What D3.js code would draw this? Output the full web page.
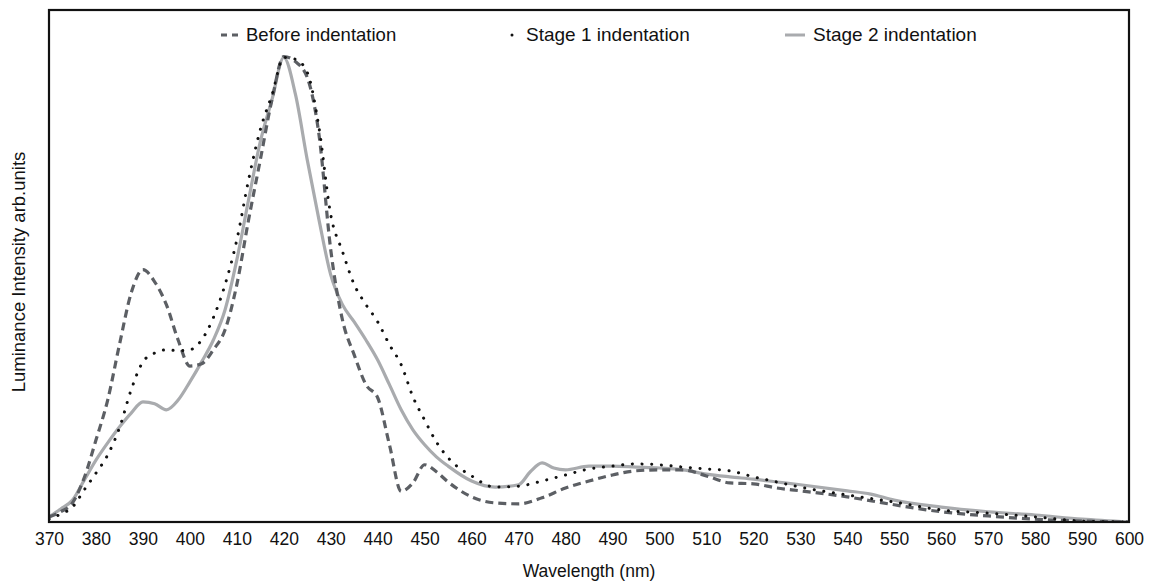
<!DOCTYPE html>
<html>
  <head>
    <meta charset="utf-8">
    <title>Luminance spectra</title>
    <script src="https://d3js.org/d3.v7.min.js"></script>
    <style>
      body { margin: 0; background: #fff; }
      text { font-family: "Liberation Sans", Arial, Helvetica, sans-serif; fill: #111; }
    </style>
  </head>
  <body>
    <div id="chart"></div>
    <script>
      // Wavelength grid (nm) for each series, and intensities (arb. units, peak = 100)
      const beforeNm = [370, 372.5, 375, 377.5, 380, 382.5, 385, 387.5, 390, 392.5, 395, 397.5, 400, 402.5, 405, 407.5, 410, 412.5, 415, 417.5, 420, 422.5, 425, 427.5, 430, 432.5, 435, 437.5, 440, 442.5, 445, 447.5, 450, 452.5, 455, 460, 465, 470, 475, 480, 485, 490, 495, 500, 505, 510, 515, 520, 525, 530, 540, 550, 560, 570, 580, 590, 600];
      const beforeVals = [1.1, 2.2, 4.1, 9.5, 17.6, 26.2, 38.1, 49.2, 54.2, 51.6, 46.7, 39.1, 33.5, 34.0, 37.0, 41.3, 51.0, 64.9, 77.8, 90.8, 100, 98.9, 95.5, 83.2, 58.5, 43.4, 35.9, 29.5, 26.7, 16.6, 6.6, 8.4, 12.3, 10.8, 8.6, 5.4, 4.1, 3.9, 5.2, 7.3, 8.8, 10.1, 11.0, 11.2, 11.2, 9.9, 8.4, 8.2, 7.3, 6.7, 5.4, 3.7, 2.2, 1.3, 0.6, 0.2, 0];

      const stage1Nm = [370, 372.5, 375, 377.5, 380, 382.5, 385, 387.5, 390, 392.5, 395, 397.5, 400, 402.5, 405, 407.5, 410, 412.5, 415, 417.5, 420, 422.5, 425, 427.5, 430, 432.5, 435, 437.5, 440, 442.5, 445, 447.5, 450, 452.5, 455, 460, 465, 470, 475, 480, 485, 490, 495, 500, 505, 510, 515, 520, 525, 530, 540, 550, 560, 570, 580, 590, 600];
      const stage1Vals = [0.6, 1.7, 3.2, 6.9, 10.5, 14.4, 20.2, 28.4, 34.4, 36.3, 37.0, 36.8, 37.0, 39.1, 43.9, 51.0, 60.6, 73.5, 84.3, 91.8, 99.8, 99.4, 96.6, 84.7, 66.0, 58.1, 51.0, 46.7, 43.0, 38.1, 33.8, 26.9, 21.9, 17.2, 13.8, 9.9, 7.5, 7.7, 8.8, 10.1, 11.4, 12.0, 12.5, 12.3, 11.8, 11.4, 11.0, 9.7, 8.6, 7.5, 5.8, 4.3, 2.6, 1.9, 1.1, 0.2, 0];

      const stage2Nm = [370, 372.5, 375, 377.5, 380, 382.5, 385, 387.5, 390, 392.5, 395, 397.5, 400, 402.5, 405, 407.5, 410, 412.5, 415, 417.5, 420, 422.5, 425, 427.5, 430, 432.5, 435, 437.5, 440, 442.5, 445, 447.5, 450, 452.5, 455, 460, 465, 470, 472.5, 475, 477.5, 480, 485, 490, 495, 500, 505, 510, 515, 520, 525, 530, 540, 545, 550, 560, 570, 580, 590, 600];
      const stage2Vals = [1.1, 2.8, 4.7, 9.0, 13.3, 17.0, 20.4, 23.4, 25.8, 25.4, 24.1, 26.2, 30.1, 34.4, 39.1, 45.6, 56.3, 69.2, 81.7, 90.8, 99.8, 91.8, 77.8, 64.9, 53.1, 46.7, 43.0, 39.1, 34.8, 29.5, 24.1, 19.8, 16.6, 14.0, 12.0, 8.8, 7.5, 8.0, 10.8, 12.7, 11.6, 11.2, 12.0, 12.0, 11.8, 11.6, 11.2, 10.3, 9.7, 9.2, 8.6, 8.0, 6.7, 6.0, 4.7, 3.2, 2.2, 1.5, 0.6, 0];

      const xTicks = d3.range(370, 601, 10);
      const seriesNames = ["Before indentation", "Stage 1 indentation", "Stage 2 indentation"];

      const W = 1153, H = 583;
      const box = {left: 49, right: 1129, top: 10, bottom: 522};

      const x = d3.scaleLinear().domain([370, 600]).range([box.left, box.right]);
      const y = d3.scaleLinear().domain([0, 110]).range([box.bottom, box.top]);

      const svg = d3.select("#chart").append("svg")
        .attr("width", W)
        .attr("height", H);

      svg.append("clipPath").attr("id", "clip")
        .append("rect")
        .attr("x", box.left).attr("y", box.top)
        .attr("width", box.right - box.left).attr("height", box.bottom - box.top);

      const line = d3.line()
        .x(d => x(d[0]))
        .y(d => y(d[1]))
        .curve(d3.curveMonotoneX);

      const series = [
        {name: seriesNames[0], nm: beforeNm, vals: beforeVals, stroke: "#5c5f64", width: 3.2, dash: "8,5", cap: "butt"},
        {name: seriesNames[1], nm: stage1Nm, vals: stage1Vals, stroke: "#111", width: 3, dash: "0.1,9.6", cap: "round"},
        {name: seriesNames[2], nm: stage2Nm, vals: stage2Vals, stroke: "#a9abae", width: 3.2, dash: null, cap: "butt"}
      ];

      const plot = svg.append("g").attr("clip-path", "url(#clip)");
      // draw stage 2 first so the darker lines sit on top
      [series[2], series[0], series[1]].forEach(s => {
        plot.append("path")
          .datum(d3.zip(s.nm, s.vals))
          .attr("fill", "none")
          .attr("stroke", s.stroke)
          .attr("stroke-width", s.width)
          .attr("stroke-dasharray", s.dash)
          .attr("stroke-linecap", s.cap)
          .attr("stroke-linejoin", "round")
          .attr("d", line);
      });

      // frame
      svg.append("rect")
        .attr("x", box.left).attr("y", box.top)
        .attr("width", box.right - box.left).attr("height", box.bottom - box.top)
        .attr("fill", "none")
        .attr("stroke", "#111")
        .attr("stroke-width", 2.2);

      // x axis labels, no tick marks
      const xAxis = d3.axisBottom(x).tickValues(xTicks).tickSize(0).tickPadding(11).tickFormat(d3.format("d"));
      const gx = svg.append("g")
        .attr("transform", `translate(0,${box.bottom})`)
        .call(xAxis);
      gx.select(".domain").remove();
      gx.selectAll("text").attr("font-size", 17.5).attr("font-family", null);

      svg.append("text")
        .attr("x", (box.left + box.right) / 2)
        .attr("y", 577)
        .attr("text-anchor", "middle")
        .attr("font-size", 17.5)
        .text("Wavelength (nm)");

      svg.append("text")
        .attr("transform", `translate(25,${272}) rotate(-90)`)
        .attr("text-anchor", "middle")
        .attr("font-size", 18.5)
        .text("Luminance Intensity arb.units");

      // legend
      const leg = svg.append("g");
      const legY = 35;
      leg.append("line")
        .attr("x1", 221).attr("x2", 238).attr("y1", legY).attr("y2", legY)
        .attr("stroke", series[0].stroke).attr("stroke-width", 3).attr("stroke-dasharray", "6,5");
      leg.append("text").attr("x", 246).attr("y", legY + 6).attr("font-size", 18.5).text(seriesNames[0]);

      leg.append("circle").attr("cx", 512).attr("cy", legY).attr("r", 1.5).attr("fill", "#111");
      leg.append("text").attr("x", 526).attr("y", legY + 6).attr("font-size", 19).text(seriesNames[1]);

      leg.append("line")
        .attr("x1", 785).attr("x2", 805).attr("y1", legY).attr("y2", legY)
        .attr("stroke", series[2].stroke).attr("stroke-width", 3);
      leg.append("text").attr("x", 813).attr("y", legY + 6).attr("font-size", 19).text(seriesNames[2]);
    </script>
  </body>
</html>
